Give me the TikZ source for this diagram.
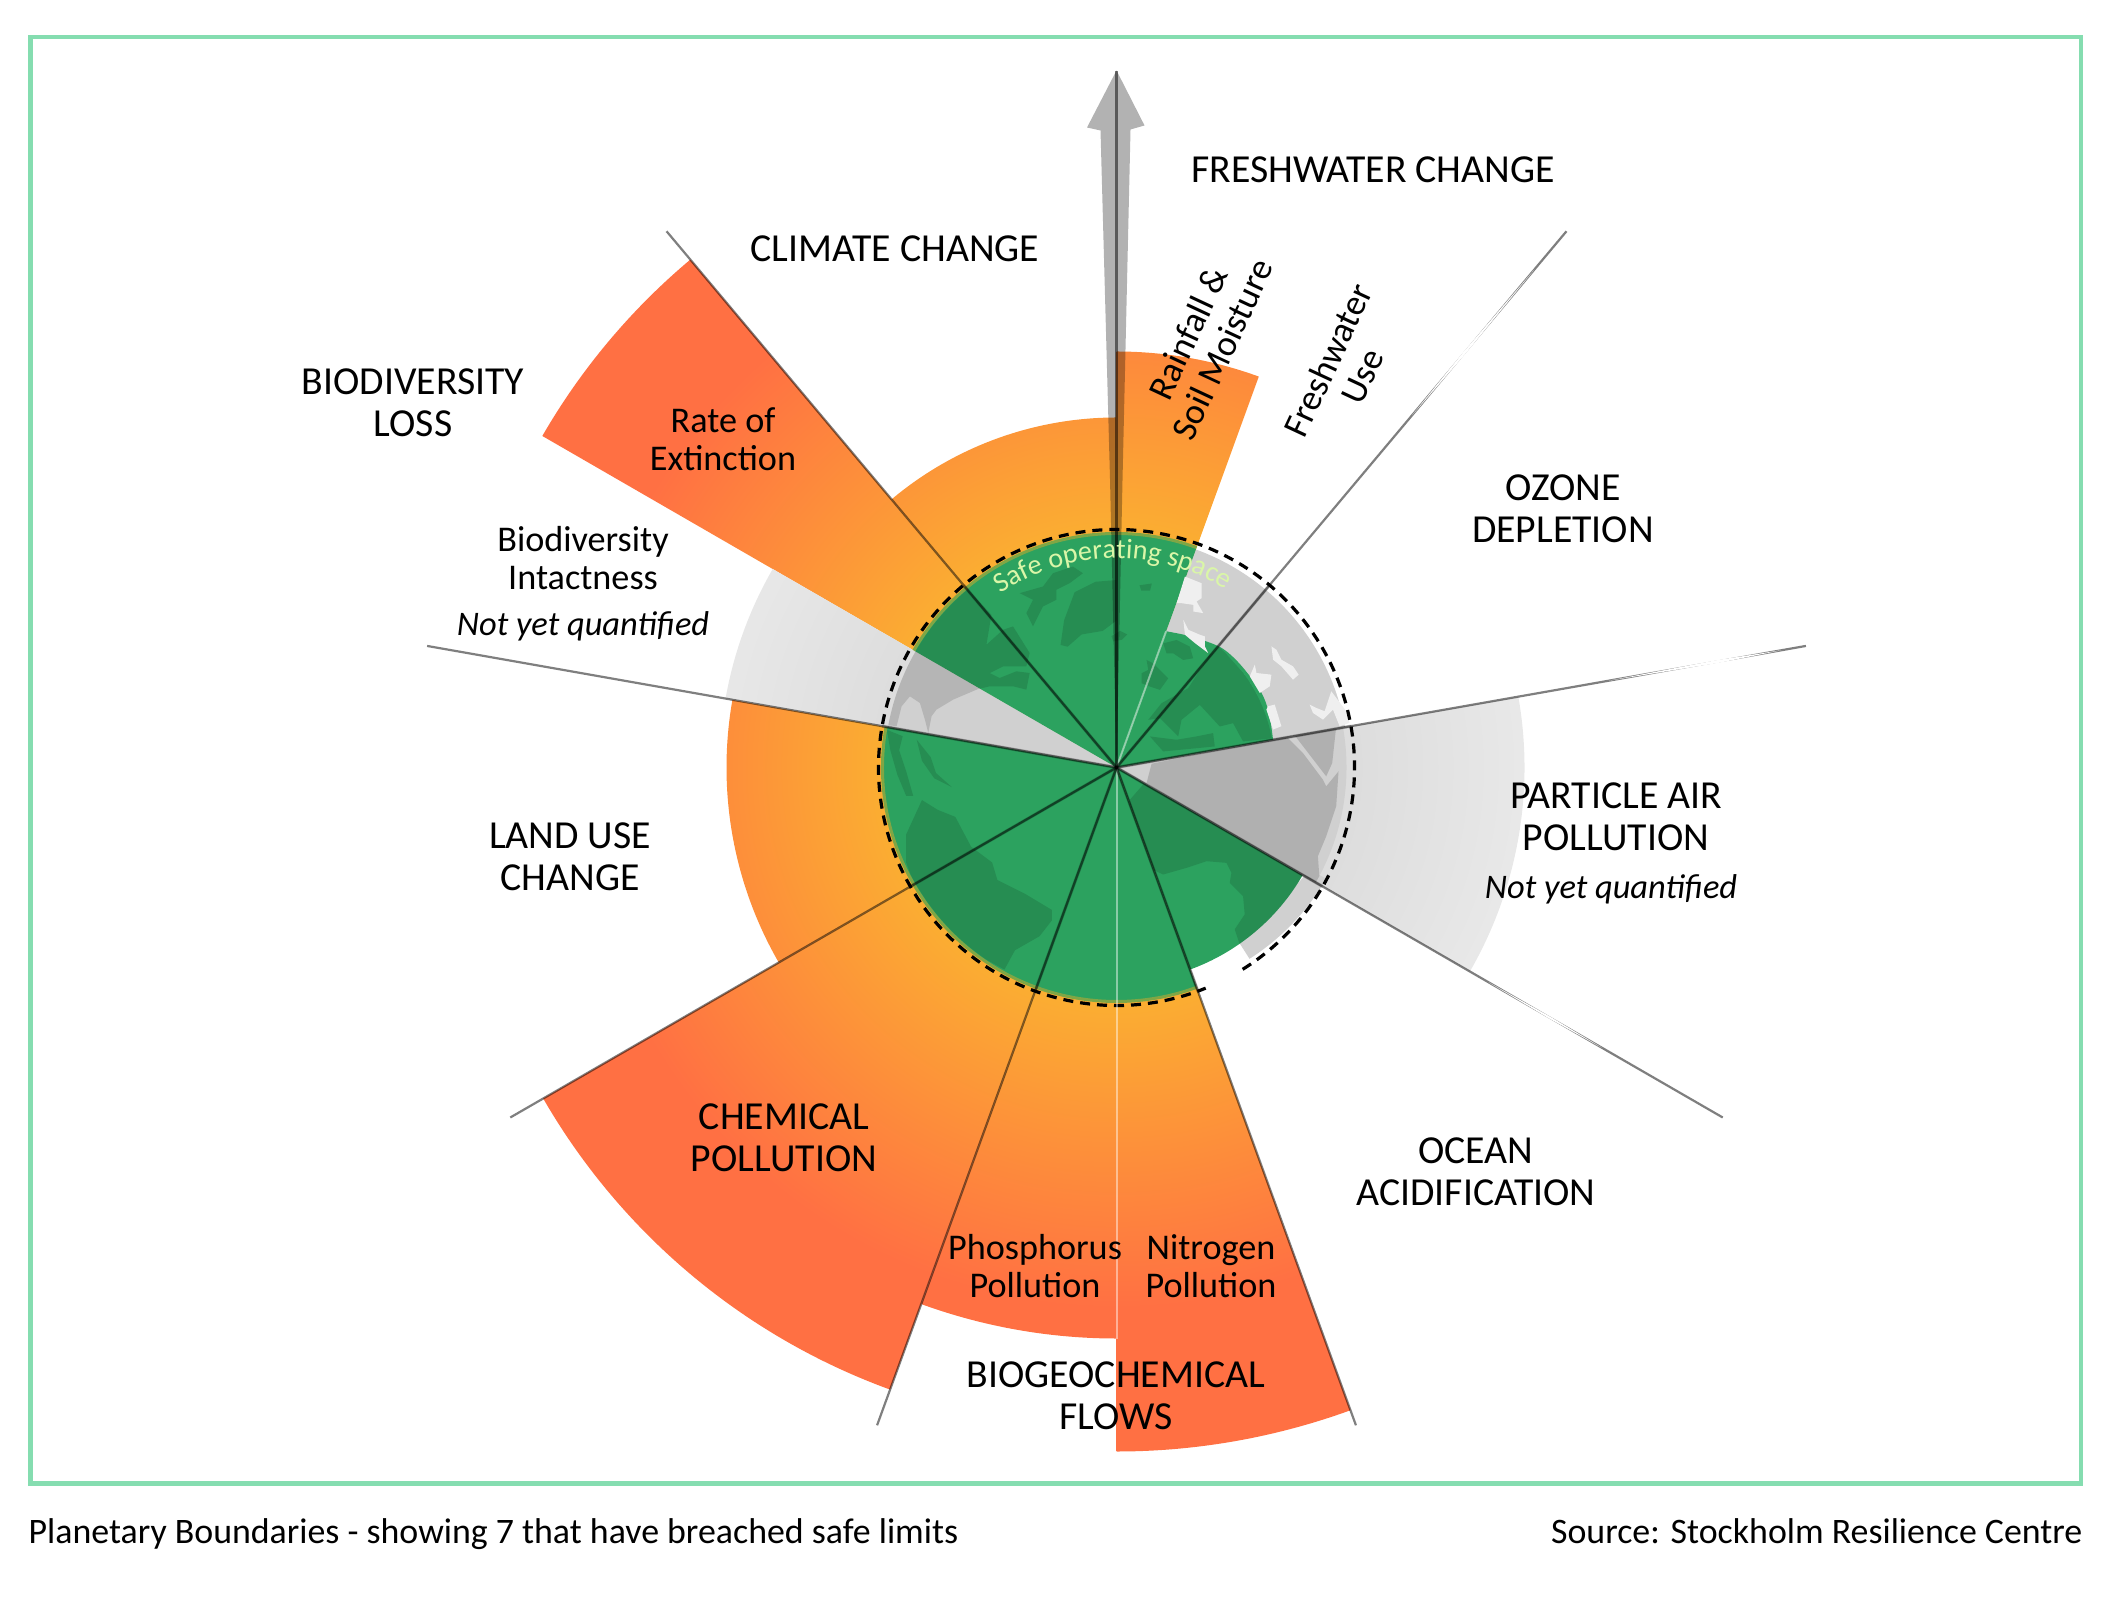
\documentclass[tikz,border=0pt]{standalone}
\usepackage{fontspec}
\setmainfont{Carlito}
\usetikzlibrary{decorations.text}

\definecolor{framegreen}{HTML}{85DDB0}
\definecolor{earthgreen}{HTML}{2CA25F}
\definecolor{edgeglow}{HTML}{7FA645}
\definecolor{glowin}{HTML}{FBAD32}
\definecolor{glowout}{HTML}{FF7043}
\definecolor{mistin}{HTML}{DDDDDD}
\definecolor{mistout}{HTML}{E9E9E9}
\definecolor{bandgray}{HTML}{D0D0D0}
\definecolor{landgray}{HTML}{B0B0B0}
\definecolor{seawhite}{HTML}{EFEFEF}
\definecolor{safetext}{HTML}{DAF6A8}

\pgfdeclareradialshading{glowfill}{\pgfpoint{0bp}{0bp}}{color(0bp)=(glowin); color(8.5bp)=(glowin); color(19.3bp)=(glowout); color(50bp)=(glowout)}
\pgfdeclareradialshading{mistfill}{\pgfpoint{0bp}{0bp}}{color(0bp)=(mistin); color(8.5bp)=(mistin); color(15bp)=(mistout); color(50bp)=(mistout)}

\tikzset{
	mainlabel/.style={align=center, font=\fontsize{11.3}{11.95}\selectfont},
	sublabel/.style={align=center, font=\fontsize{10.3}{10.8}\selectfont},
	notelabel/.style={align=center, font=\fontsize{9.8}{11}\selectfont\itshape},
	footlabel/.style={inner sep=0pt, font=\fontsize{10.2}{11}\selectfont},
	spokeline/.style={draw=black, opacity=0.5, line width=0.022cm},
	spokeinner/.style={draw=black, opacity=0.2, line width=0.032cm},
	splitline/.style={draw=white, opacity=0.45, line width=0.02cm},
	landmass/.style={fill=black, opacity=0.13},
	viewnorth/.style={shift={(8.5,11.25)}, x=0.003508cm, y=-0.003508cm},
	viewwest/.style={shift={(8.7,10.75)}, x=0.003333cm, y=-0.003333cm},
	vieweast/.style={shift={(11.1,9.65)}, x=0.003333cm, y=-0.003333cm},
	viewozone/.style={shift={(11.5,10.75)}, x=0.003333cm, y=-0.003333cm}
}

\newcommand{\wedgepath}[3]{(hub) -- ++(#1:#3) arc (#1:#2:#3) -- cycle}
\newcommand{\glowwedge}[3]{
	\begin{scope}
		\clip \wedgepath{#1}{#2}{#3};
		\shade[shading=glowfill] (hub) circle (7);
	\end{scope}
}
\newcommand{\mistwedge}[3]{
	\begin{scope}
		\clip \wedgepath{#1}{#2}{#3};
		\shade[shading=mistfill] (hub) circle (7);
	\end{scope}
}

\begin{document}
\begin{tikzpicture}
	% Parameters
	\def\spokelen{7}
	\def\earthrad{2.33}
	\def\safelimit{2.38}
	\coordinate (hub) at (11.165,8.375);
	\useasboundingbox (0,0) rectangle (21.23,16.05);

	%frame
	\draw[framegreen, line width=0.045cm] (0.305,1.215) rectangle (20.81,15.68);

	%sectors past the limit
	\glowwedge{70}{90}{4.16}
	\glowwedge{90}{130}{3.5}
	\glowwedge{130}{150}{6.63}
	\glowwedge{170}{210}{3.9}
	\glowwedge{210}{250}{6.62}
	\glowwedge{250}{270}{5.71}
	\glowwedge{270}{290}{6.84}

	%not yet quantified
	\mistwedge{150}{170}{3.97}
	\mistwedge{-30}{10}{4.08}

	%earth
	\fill[bandgray] \wedgepath{10}{70}{2.32};
	\fill[bandgray] \wedgepath{150}{170}{2.32};
	\fill[bandgray] \wedgepath{-30}{10}{2.30};
	\fill[bandgray] (hub) ++(-55:2.15) -- ++(-57.5:0.18) arc (-57.5:-30:2.33) -- ++(150:0.18) -- cycle;
	\fill[earthgreen] \wedgepath{70}{150}{\earthrad};
	\fill[earthgreen] \wedgepath{170}{290}{\earthrad};
	\fill[earthgreen] \wedgepath{-70}{-30}{2.15};
	\begin{scope}[shift={(hub)}]
		\fill[earthgreen] (0,0) -- plot[smooth] coordinates {(10:1.59) (20:1.62) (28:1.63) (40:1.61) (49:1.59) (60:1.51) (70:1.45)} -- cycle;
	\end{scope}
	\draw[edgeglow, line width=0.03cm] (hub) ++(70:2.34) arc (70:150:2.34);
	\draw[edgeglow, line width=0.03cm] (hub) ++(170:2.34) arc (170:290:2.34);

	%lands north and west
	\begin{scope}
		\clip (hub) circle (2.32);
		\begin{scope}[viewwest]
			\fill[landmass] (285,170) -- (365,255) -- (350,345) -- (400,300) -- (430,290) -- (480,370) -- (470,410) -- (400,410) -- (360,430) -- (390,445) -- (440,425) -- (480,430) -- (470,480) -- (430,470) -- (400,470) -- (360,470) -- (325,478) -- (250,510) -- (200,540) -- (185,560) -- (175,610) -- (165,570) -- (150,520) -- (120,500) -- (95,530) -- (80,590) -- (40,585) -- (70,400) -- cycle;
			\fill[landmass] (450,190) -- (520,170) -- (550,130) -- (610,110) -- (640,130) -- (600,160) -- (560,180) -- (560,210) -- (520,230) -- (490,290) -- (470,250) -- (490,210) -- cycle;
		\end{scope}
		\begin{scope}[viewnorth]
			\fill[landmass] (600,470) -- (610,400) -- (640,320) -- (700,290) -- (760,285) -- (760,400) -- (720,430) -- (660,440) -- (620,475) -- cycle;
			\fill[landmass] (745,445) -- (770,430) -- (790,440) -- (775,455) -- (750,460) -- cycle;
			\fill[landmass] (825,300) -- (860,295) -- (855,315) -- (830,315) -- cycle;
			\fill[landmass] (105,712) -- (150,730) -- (140,770) -- (160,830) -- (180,900) -- (160,900) -- (135,840) -- (115,770) -- cycle;
			\fill[landmass] (190,740) -- (230,790) -- (245,835) -- (290,875) -- (240,850) -- (205,800) -- cycle;
			\fill[landmass] (160,1010) -- (205,912) -- (250,940) -- (300,960) -- (345,1045) -- (405,1090) -- (420,1140) -- (500,1180) -- (575,1225) -- (575,1255) -- (540,1300) -- (470,1340) -- (440,1395) -- (340,1340) -- (270,1280) -- (190,1170) -- (160,1090) -- cycle;
		\end{scope}
	\end{scope}

	%lands east
	\begin{scope}
		\clip (hub) circle (1.58);
		\begin{scope}[vieweast]
			\fill[landmass] (160,10) -- (200,0) -- (240,20) -- (250,55) -- (220,60) -- (190,40) -- (170,40) -- cycle;
			\fill[landmass] (110,60) -- (130,70) -- (175,115) -- (150,150) -- (120,140) -- (95,130) -- (95,100) -- (115,90) -- cycle;
			\fill[landmass] (330,20) -- (410,110) -- (470,210) -- (490,295) -- (400,305) -- (370,250) -- (330,260) -- (270,195) -- (215,240) -- (205,290) -- (150,235) -- (115,240) -- (155,190) -- (235,145) -- (300,45) -- cycle;
			\fill[landmass] (120,290) -- (200,300) -- (260,290) -- (310,280) -- (315,320) -- (160,335) -- cycle;
		\end{scope}
	\end{scope}
	\begin{scope}
		\clip \wedgepath{-70}{-30}{2.15};
		\begin{scope}[vieweast]
			\fill[landmass] (110,420) -- (95,440) -- (60,480) -- (45,590) -- (60,640) -- (105,680) -- (160,705) -- (230,685) -- (290,665) -- (350,670) -- (365,700) -- (360,730) -- (400,770) -- (405,825) -- (375,870) -- (390,915) -- (600,900) -- (640,740) -- cycle;
		\end{scope}
	\end{scope}
	\begin{scope}
		\clip \wedgepath{-30}{10}{2.30};
		\begin{scope}[vieweast]
			\fill[landgray] (125,372) -- (110,430) -- (610,740) -- (630,720) -- (625,650) -- (650,590) -- (680,500) -- (687,395) -- (650,440) -- (640,420) -- (580,340) -- (530,290) -- cycle;
			\fill[landgray] (550,280) -- (680,260) -- (668,370) -- (650,410) -- cycle;
		\end{scope}
	\end{scope}

	%seas
	\begin{scope}[viewozone]
		\fill[seawhite] (105,140) -- (155,160) -- (155,205) -- (140,215) -- (160,250) -- (130,245) -- (130,225) -- (95,220) -- (80,220) -- cycle;
		\fill[seawhite] (100,270) -- (115,300) -- (150,315) -- (165,320) -- (165,350) -- (175,370) -- (135,340) -- (105,315) -- cycle;
		\fill[seawhite] (365,350) -- (380,360) -- (395,390) -- (430,410) -- (447,435) -- (430,450) -- (395,410) -- (370,390) -- cycle;
		\fill[seawhite] (315,405) -- (320,430) -- (365,435) -- (360,470) -- (330,490) -- (300,440) -- cycle;
		\fill[seawhite] (355,530) -- (375,525) -- (395,590) -- (370,600) -- (350,540) -- cycle;
		\fill[seawhite] (480,525) -- (500,535) -- (525,545) -- (545,485) -- (590,545) -- (600,580) -- (570,590) -- (550,540) -- (520,570) -- (490,550) -- cycle;
	\end{scope}

	%safe limit
	\draw[black, line width=0.032cm, dash pattern=on 0.10cm off 0.07cm] (hub) ++(-58:\safelimit) arc (-58:292:\safelimit);

	%split lines
	\draw[splitline] (hub) -- ++(70:1.45);
	\draw[splitline] (hub) -- ++(270:5.71);

	%arrow
	\fill[black, opacity=0.3] (11.165,15.345) -- (10.87,14.775) -- (11.005,14.745) -- (11.10,11.255) -- (hub) -- (11.225,11.255) -- (11.305,14.755) -- (11.445,14.795) -- cycle;

	%spokes
	\foreach \a in {90,50,10,-30,-70,-110,-150,170,130} {
		\draw[spokeline] (hub) -- ++(\a:\ifnum\a=90 6.96\else\spokelen\fi);
		\draw[spokeinner] (hub) -- ++(\a:\safelimit);
	}
	\begin{scope}[shift={(hub)}]
		\foreach \a/\ri/\rm/\ro/\w in {50/4.6/5.4/6.5/0.14, 10/5.0/6.1/6.75/0.14, -30/4.3/5.0/5.6/0.12} {
			\fill[white] (\a:\ri) -- (\a+\w:\rm) -- (\a:\ro) -- (\a-\w:\rm) -- cycle;
		}
	\end{scope}

	%safe space text
	\path[decorate, decoration={text along path, text align=center, text={|\color{safetext}\fontsize{8}{8}\selectfont|Safe operating space}}] (hub) ++(135:2.09) arc (135:47:2.09);

	%labels
	\node[mainlabel] (freshwater) at (13.73,14.35) {FRESHWATER CHANGE};
	\node[mainlabel] (climate) at (8.95,13.56) {CLIMATE CHANGE};
	\node[mainlabel] (biodiversity) at (4.13,12.02) {BIODIVERSITY\\LOSS};
	\node[mainlabel] (ozone) at (15.63,10.96) {OZONE\\DEPLETION};
	\node[mainlabel] (particle) at (16.16,7.88) {PARTICLE AIR\\POLLUTION};
	\node[mainlabel] (landuse) at (5.70,7.48) {LAND USE\\CHANGE};
	\node[mainlabel] (chemical) at (7.84,4.67) {CHEMICAL\\POLLUTION};
	\node[mainlabel] (ocean) at (14.76,4.33) {OCEAN\\ACIDIFICATION};
	\node[mainlabel] (biogeo) at (11.16,2.09) {BIOGEOCHEMICAL\\FLOWS};

	\node[sublabel] (extinction) at (7.23,11.66) {Rate of\\Extinction};
	\node[sublabel] (intactness) at (5.83,10.47) {Biodiversity\\Intactness};
	\node[sublabel] (phosphorus) at (10.35,3.39) {Phosphorus\\Pollution};
	\node[sublabel] (nitrogen) at (12.11,3.39) {Nitrogen\\Pollution};
	\node[sublabel, rotate=65] (rainfall) at (12.05,12.64) {Rainfall \&\\Soil Moisture};
	\node[sublabel, rotate=65] (freshuse) at (13.45,12.37) {Freshwater\\Use};

	\node[notelabel] (intactnote) at (5.83,9.79) {Not yet quantified};
	\node[notelabel] (particlenote) at (16.11,7.16) {Not yet quantified};

	\node[footlabel, anchor=base west] (caption) at (0.28,0.62) {Planetary Boundaries - showing 7 that have breached safe limits};
	\node[footlabel, anchor=base east] (source) at (20.83,0.62) {Source: Stockholm Resilience Centre};
\end{tikzpicture}
\end{document}
